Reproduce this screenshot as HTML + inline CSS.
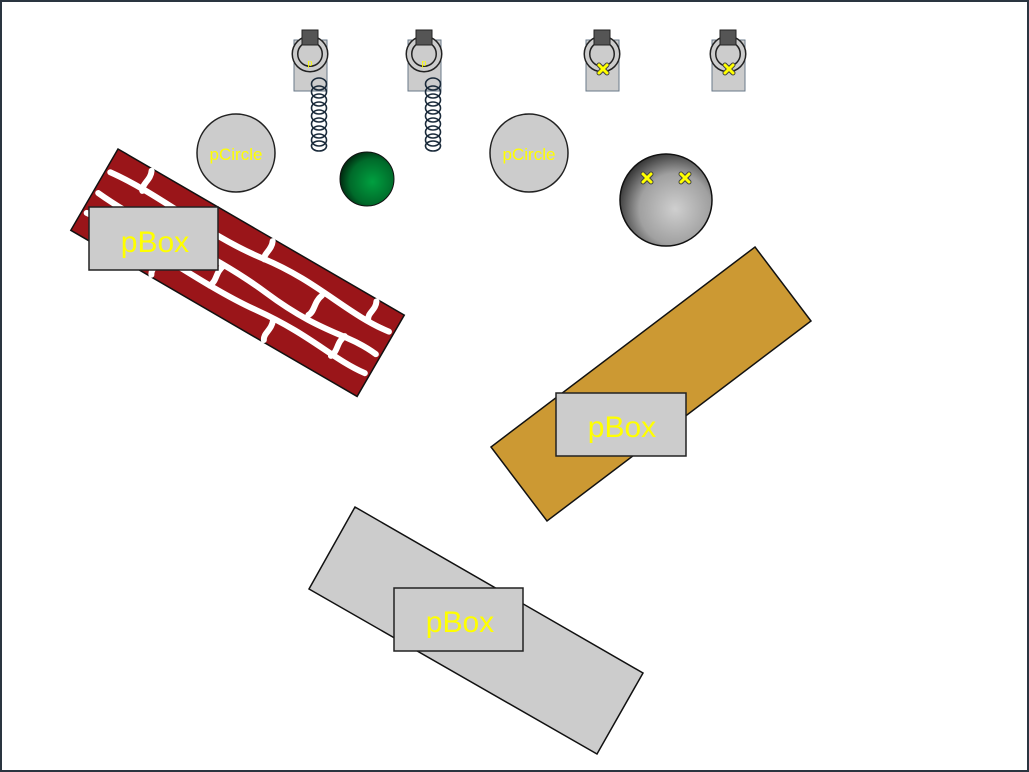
<!DOCTYPE html>
<html><head><meta charset="utf-8"><style>
html,body{margin:0;padding:0;background:#fff}
svg{display:block}
text{font-family:"Liberation Sans","DejaVu Sans",sans-serif;fill:#ffff00}
</style></head><body>
<svg width="1029" height="772" viewBox="0 0 1029 772" xmlns="http://www.w3.org/2000/svg">
<defs>
<radialGradient id="g1" cx="0.6" cy="0.55" r="0.6"><stop offset="0" stop-color="#00a040"/><stop offset="0.7" stop-color="#006a2a"/><stop offset="1" stop-color="#002a10"/></radialGradient>
<radialGradient id="g2" cx="0.6" cy="0.6" r="0.65"><stop offset="0" stop-color="#cfcfcf"/><stop offset="0.6" stop-color="#a0a0a0"/><stop offset="1" stop-color="#303030"/></radialGradient>
<g id="hanger">
<rect x="-16" y="-14" width="33" height="51" fill="#cccccc" stroke="#6a7a8a" stroke-width="1"/>
<circle cx="0" cy="0" r="15" fill="none" stroke="#222" stroke-width="7"/>
<circle cx="0" cy="0" r="15" fill="none" stroke="#cccccc" stroke-width="4"/>
<rect x="-8" y="-24" width="16" height="15" fill="#555" stroke="#222" stroke-width="1"/>
</g>
<g id="spring" fill="none" stroke="#1a2a3a" stroke-width="1.6">
<ellipse cx="0" cy="0" rx="7.5" ry="6"/><ellipse cx="0" cy="8" rx="7.5" ry="6"/><ellipse cx="0" cy="16" rx="7.5" ry="6"/><ellipse cx="0" cy="24" rx="7.5" ry="6"/><ellipse cx="0" cy="32" rx="7.5" ry="6"/><ellipse cx="0" cy="40" rx="7.5" ry="6"/><ellipse cx="0" cy="48" rx="7.5" ry="6"/><ellipse cx="0" cy="56" rx="7.5" ry="6"/><ellipse cx="0" cy="62" rx="7.5" ry="5"/>
</g>
<g id="xm"><path d="M-4,-4L4,4M4,-4L-4,4" stroke="#444" stroke-width="5" stroke-linecap="round"/><path d="M-4,-4L4,4M4,-4L-4,4" stroke="#ffff00" stroke-width="3" stroke-linecap="round"/></g>
</defs>
<rect x="1" y="1" width="1027" height="770" fill="#fff" stroke="#2a3540" stroke-width="2"/>

<use href="#hanger" x="310" y="54"/>
<use href="#hanger" x="424" y="54"/>
<use href="#hanger" x="602" y="54"/>
<use href="#hanger" x="728" y="54"/>
<use href="#spring" x="319" y="84"/>
<use href="#spring" x="433" y="84"/>
<use href="#xm" x="603" y="69"/>
<use href="#xm" x="729" y="69"/>
<text x="310" y="66" font-size="9" text-anchor="middle">p</text>
<text x="424" y="66" font-size="9" text-anchor="middle">p</text>

<circle cx="236" cy="153" r="39" fill="#cccccc" stroke="#222" stroke-width="1.5"/>
<text x="236" y="160" font-size="17" text-anchor="middle">pCircle</text>
<circle cx="529" cy="153" r="39" fill="#cccccc" stroke="#222" stroke-width="1.5"/>
<text x="529" y="160" font-size="17" text-anchor="middle">pCircle</text>
<circle cx="367" cy="179" r="27" fill="url(#g1)" stroke="#111" stroke-width="1"/>
<circle cx="666" cy="200" r="46" fill="url(#g2)" stroke="#111" stroke-width="1.5"/>
<use href="#xm" x="647" y="178"/>
<use href="#xm" x="685" y="178"/>

<g transform="translate(118,149) rotate(30.13)">
<rect x="0" y="0" width="331" height="94" fill="#9a1519" stroke="#111" stroke-width="1.5"/>
<g fill="none" stroke="#fff" stroke-width="6" stroke-linecap="round">
<path d="M5,24 C60,18 120,30 180,22 S280,28 326,22"/>
<path d="M5,48 C70,54 130,42 200,50 S290,44 326,48"/>
<path d="M5,71 C60,66 140,76 200,70 S290,74 326,70"/>
<path d="M40,2 C44,10 38,18 42,24"/><path d="M110,24 C106,34 112,42 108,48"/><path d="M180,2 C184,10 178,18 182,22"/><path d="M250,24 C246,34 252,42 248,48"/>
<path d="M75,48 C79,58 73,64 77,71"/><path d="M150,48 C146,58 152,64 148,72"/><path d="M220,70 C224,80 218,86 222,92"/><path d="M290,48 C286,58 292,64 288,72"/><path d="M90,71 C94,80 88,86 92,92"/><path d="M300,2 C304,10 298,16 302,22"/>
</g>
</g>

<polygon points="755,247 811,321 547,521 491,447" fill="#cc9933" stroke="#111" stroke-width="1.5"/>
<polygon points="355,507 643,673 597,754 309,589" fill="#cccccc" stroke="#111" stroke-width="1.5"/>

<rect x="89" y="207" width="129" height="63" fill="#cccccc" stroke="#222" stroke-width="1.5"/>
<text x="155" y="252" font-size="30" text-anchor="middle">pBox</text>
<rect x="556" y="393" width="130" height="63" fill="#cccccc" stroke="#222" stroke-width="1.5"/>
<text x="622" y="437" font-size="30" text-anchor="middle">pBox</text>
<rect x="394" y="588" width="129" height="63" fill="#cccccc" stroke="#222" stroke-width="1.5"/>
<text x="460" y="632" font-size="30" text-anchor="middle">pBox</text>
</svg>
</body></html>
